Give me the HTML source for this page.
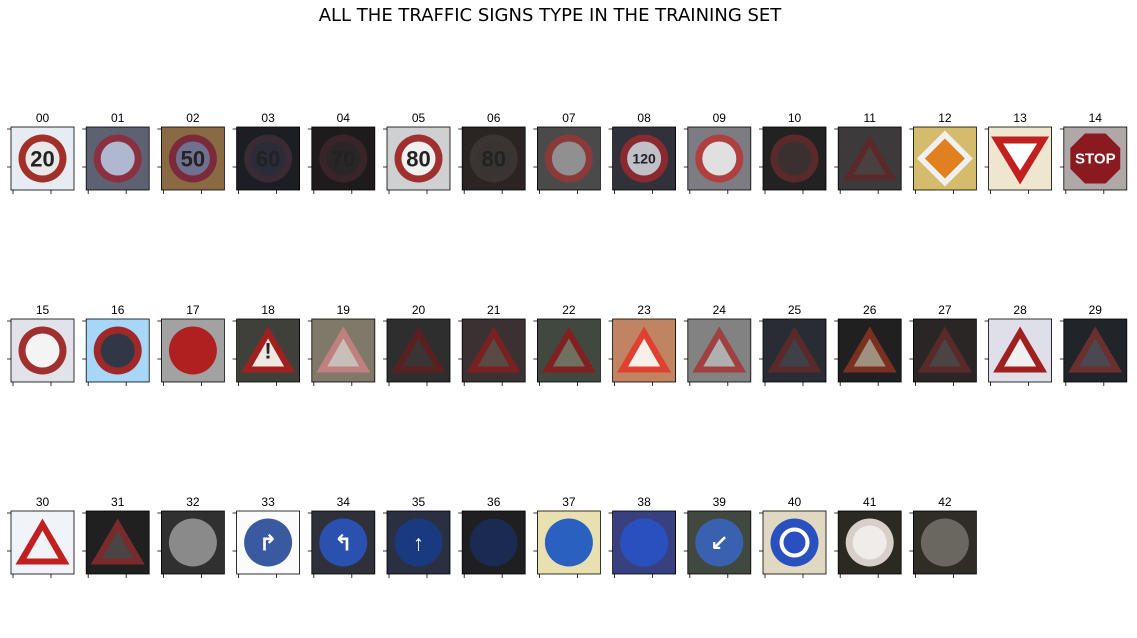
<!DOCTYPE html>
<html><head><meta charset="utf-8"><style>
body{margin:0;background:#fff;width:1137px;height:633px;overflow:hidden;font-family:"Liberation Sans","DejaVu Sans",sans-serif}
</style></head><body>
<svg id="fig" width="1137" height="633" xmlns="http://www.w3.org/2000/svg">
<text x="550" y="21" font-size="18" text-anchor="middle" fill="#000" font-family="DejaVu Sans, Liberation Sans, sans-serif">ALL THE TRAFFIC SIGNS TYPE IN THE TRAINING SET</text>
</svg>
<script>
const labels=["00","01","02","03","04","05","06","07","08","09","10","11","12","13","14","15","16","17","18","19","20","21","22","23","24","25","26","27","28","29","30","31","32","33","34","35","36","37","38","39","40","41","42"];
const bgs=["#e6ecf2","#5c6272","#8a6a42","#1c1e24","#1e1b1c","#cfd0d2","#2a2522","#4a4a4a","#31313a","#7c7c82","#222222","#3c3a3a","#d4bc6c","#efe6d0","#b0a8a8","#e2e2ea","#a8d6f6","#a2a2a2","#40403a","#807868","#2e2e2e","#3a3232","#404840","#c08462","#828282","#2a2c34","#202020","#2a2626","#dedfe8","#212428","#f0f4f8","#202020","#303030","#fbfbfb","#30303a","#2a3042","#1f1f22","#e8e0b0","#384080","#404840","#e0d8c0","#2a2a20","#302c28"];
const shapes=["c","c","c","c","c","c","c","c","c","c","c","t","d","v","o","c","c","c","t","t","t","t","t","t","t","t","t","t","t","t","t","t","c","b","b","b","b","b","b","b","b","c","c"];
const rings=["#a03028","#8a3040","#7a2a3a","#3a2a34","#3a2428","#a03030","#3a3432","#8a3a3a","#8a2a30","#b04040","#5a2a2a","#5a2a2a","#f0f0f0","#c02020","#8a1a20","#a03030","#a02828","#b02020","#a02020","#c08080","#5a2020","#7a2020","#802020","#e04030","#a04040","#5a2a2a","#7a3020","#5a2a2a","#a02020","#6a3030","#c02020","#7a2a2a","#8a8a8a","#3a5aa0","#2a50b0","#1a3a80","#1a2a50","#2a60c0","#2a50c0","#3a60b0","#2a50c0","#d8d0c8","#6a6660"];
const fills=["#e8e8e8","#b0b8d0","#707090","#2a2c38","#2a2628","#f0f0f0","#3a3430","#909090","#c0c0c8","#e0e0e0","#3a3030","#4a4040","#e08020","#ffffff","#8a1a20","#f4f4f4","#303848","#b02020","#f0e8e0","#c8c0b8","#3a3434","#5a4a44","#707060","#f8f0e8","#b0b0b0","#404048","#a09080","#4a4444","#f0f0f0","#4a4850","#f0f4f8","#4a4444","#8a8a8a","#3a5aa0","#2a50b0","#1a3a80","#1a2a50","#2a60c0","#2a50c0","#3a60b0","#2a50c0","#f0ecea","#6a6660"];
const texts=["20","","50","60","70","80","80","","120","","","","","","STOP","","","","!","","","","","","","","","","","","","","","↱","↰","↑","","","","↙","","",""];
const NS="http://www.w3.org/2000/svg";
const svg=document.getElementById('fig');
function el(t,a,p){const e=document.createElementNS(NS,t);for(const k in a)e.setAttribute(k,a[k]);(p||svg).appendChild(e);return e;}
function colX(i){return 11+75.2*(i%15);}
function rowY(i){return 127+192*Math.floor(i/15);}
labels.forEach((lab,i)=>{
  const x=colX(i),y=rowY(i),w=63,h=63,cx=x+w/2,cy=y+h/2;
  const g=el('g',{});
  
  
  el('rect',{x:x,y:y,width:w,height:h,fill:bgs[i]},g);
  const s=shapes[i],r=rings[i],f=fills[i];
  if(s==='c'){el('circle',{cx:cx,cy:cy,r:24,fill:r},g);el('circle',{cx:cx,cy:cy,r:17,fill:f},g);}
  else if(s==='b'){el('circle',{cx:cx,cy:cy,r:24,fill:r},g);if(i===40)el('circle',{cx:cx,cy:cy,r:13,fill:'none',stroke:'#fff','stroke-width':4},g);}
  else if(s==='t'){el('polygon',{points:`${cx},${cy-24} ${cx+27},${cy+22} ${cx-27},${cy+22}`,fill:r},g);el('polygon',{points:`${cx},${cy-12} ${cx+16},${cy+16} ${cx-16},${cy+16}`,fill:f},g);}
  else if(s==='v'){el('polygon',{points:`${cx-29},${cy-22} ${cx+29},${cy-22} ${cx},${cy+26}`,fill:r},g);el('polygon',{points:`${cx-17},${cy-15} ${cx+17},${cy-15} ${cx},${cy+12}`,fill:f},g);}
  else if(s==='d'){el('polygon',{points:`${cx},${cy-28} ${cx+28},${cy} ${cx},${cy+28} ${cx-28},${cy}`,fill:r},g);el('polygon',{points:`${cx},${cy-20} ${cx+20},${cy} ${cx},${cy+20} ${cx-20},${cy}`,fill:f},g);}
  else if(s==='o'){const p=[];for(let k=0;k<8;k++){const a=Math.PI/8+k*Math.PI/4;p.push((cx+27*Math.cos(a))+','+(cy+27*Math.sin(a)));}el('polygon',{points:p.join(' '),fill:r},g);}
  if(texts[i]){const t=el('text',{x:cx,y:cy+(texts[i].length>2?5:8),'font-size':texts[i]==='STOP'?15:(texts[i].length>2?14:22),'text-anchor':'middle',fill:(s==='o'||s==='b')?'#fff':'#222','font-weight':'bold'},g);t.textContent=texts[i];}
  el('rect',{x:x,y:y,width:w,height:h,fill:'none',stroke:'#000','stroke-width':0.8},g);
  // ticks
  [2,40].forEach(d=>{el('line',{x1:x+d,y1:y+h,x2:x+d,y2:y+h+4,stroke:'#000','stroke-width':0.8},g);});
  [2,40].forEach(d=>{el('line',{x1:x,y1:y+d,x2:x-4,y2:y+d,stroke:'#000','stroke-width':0.8},g);});
  const tt=el('text',{x:cx,y:y-5,'font-size':12,'text-anchor':'middle',fill:'#000'},g);
  
  
  tt.textContent=lab;
});
</script>
</body></html>
